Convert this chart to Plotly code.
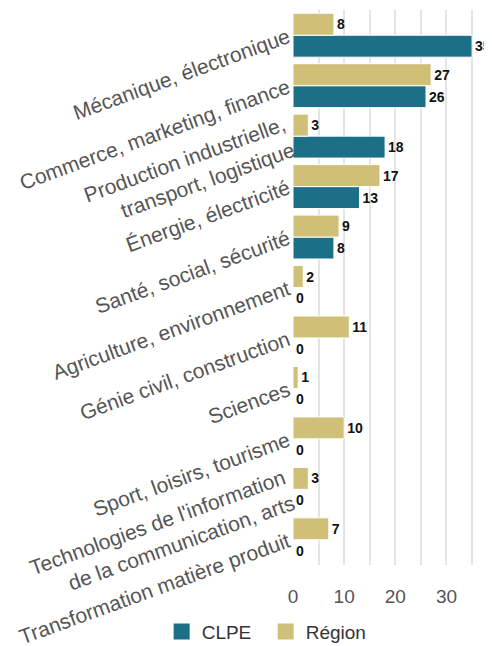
import plotly.graph_objects as go

categories = [
    "Mécanique, électronique",
    "Commerce, marketing, finance",
    "Production industrielle,<br>transport, logistique",
    "Énergie, électricité",
    "Santé, social, sécurité",
    "Agriculture, environnement",
    "Génie civil, construction",
    "Sciences",
    "Sport, loisirs, tourisme",
    "Technologies de l'information<br>de la communication, arts",
    "Transformation matière produit",
]
clpe = [35, 26, 18, 13, 8, 0, 0, 0, 0, 0, 0]
region = [8, 27, 3, 17, 9, 2, 11, 1, 10, 3, 7]

TEAL = "#1b6f86"
KHAKI = "#d0c077"
FONT = "Arial, Liberation Sans, sans-serif"

fig = go.Figure()
fig.add_trace(go.Bar(
    y=categories, x=clpe, orientation="h", name="CLPE",
    marker=dict(color=TEAL, line=dict(color="white", width=1)),
    text=clpe, textposition="outside", cliponaxis=False,
    textfont=dict(family=FONT, size=14, color="#111111", weight="bold"),
    showlegend=False,
))
fig.add_trace(go.Bar(
    y=categories, x=region, orientation="h", name="Région",
    marker=dict(color=KHAKI, line=dict(color="white", width=1)),
    text=region, textposition="outside", cliponaxis=False,
    textfont=dict(family=FONT, size=14, color="#111111", weight="bold"),
    showlegend=False,
))
# legend entries with larger squares
for nm, col in [("CLPE", TEAL), ("Région", KHAKI)]:
    fig.add_trace(go.Scatter(
        x=[None], y=[None], mode="markers", name=nm,
        marker=dict(symbol="square", size=16, color=col),
        showlegend=True,
    ))

fig.update_layout(
    width=484, height=638,
    margin=dict(l=285, r=0, t=2, b=81, autoexpand=False),
    barmode="group", bargap=0.13, bargroupgap=0,
    plot_bgcolor="white", paper_bgcolor="white",
    font=dict(family=FONT, color="#555555"),
    legend=dict(
        orientation="h", xref="paper", yref="paper",
        x=-0.66, y=-0.12, xanchor="left", yanchor="middle",
        font=dict(size=19, color="#333333"),
        traceorder="normal", entrywidth=59, entrywidthmode="pixels",
    ),
)
fig.update_xaxes(
    range=[0, 38.9], tickvals=[0, 10, 20, 30], ticktext=["0", "10", "20", "30"],
    showgrid=True, gridcolor="#e4e4e4", gridwidth=1.5,
    minor=dict(tickvals=[5, 15, 25, 35], showgrid=True, gridcolor="#e4e4e4", gridwidth=1.5),
    zeroline=False, tickfont=dict(size=19, color="#555555"),
    showline=False, ticks="", automargin=False, ticklabelstandoff=18,
)
fig.update_yaxes(
    categoryorder="array", categoryarray=categories[::-1],
    tickangle=-20, tickfont=dict(size=21, color="#555555"),
    showgrid=False, zeroline=False, ticks="", ticklabelstandoff=4,
    automargin=False,
)

fig.write_html("out.html")
